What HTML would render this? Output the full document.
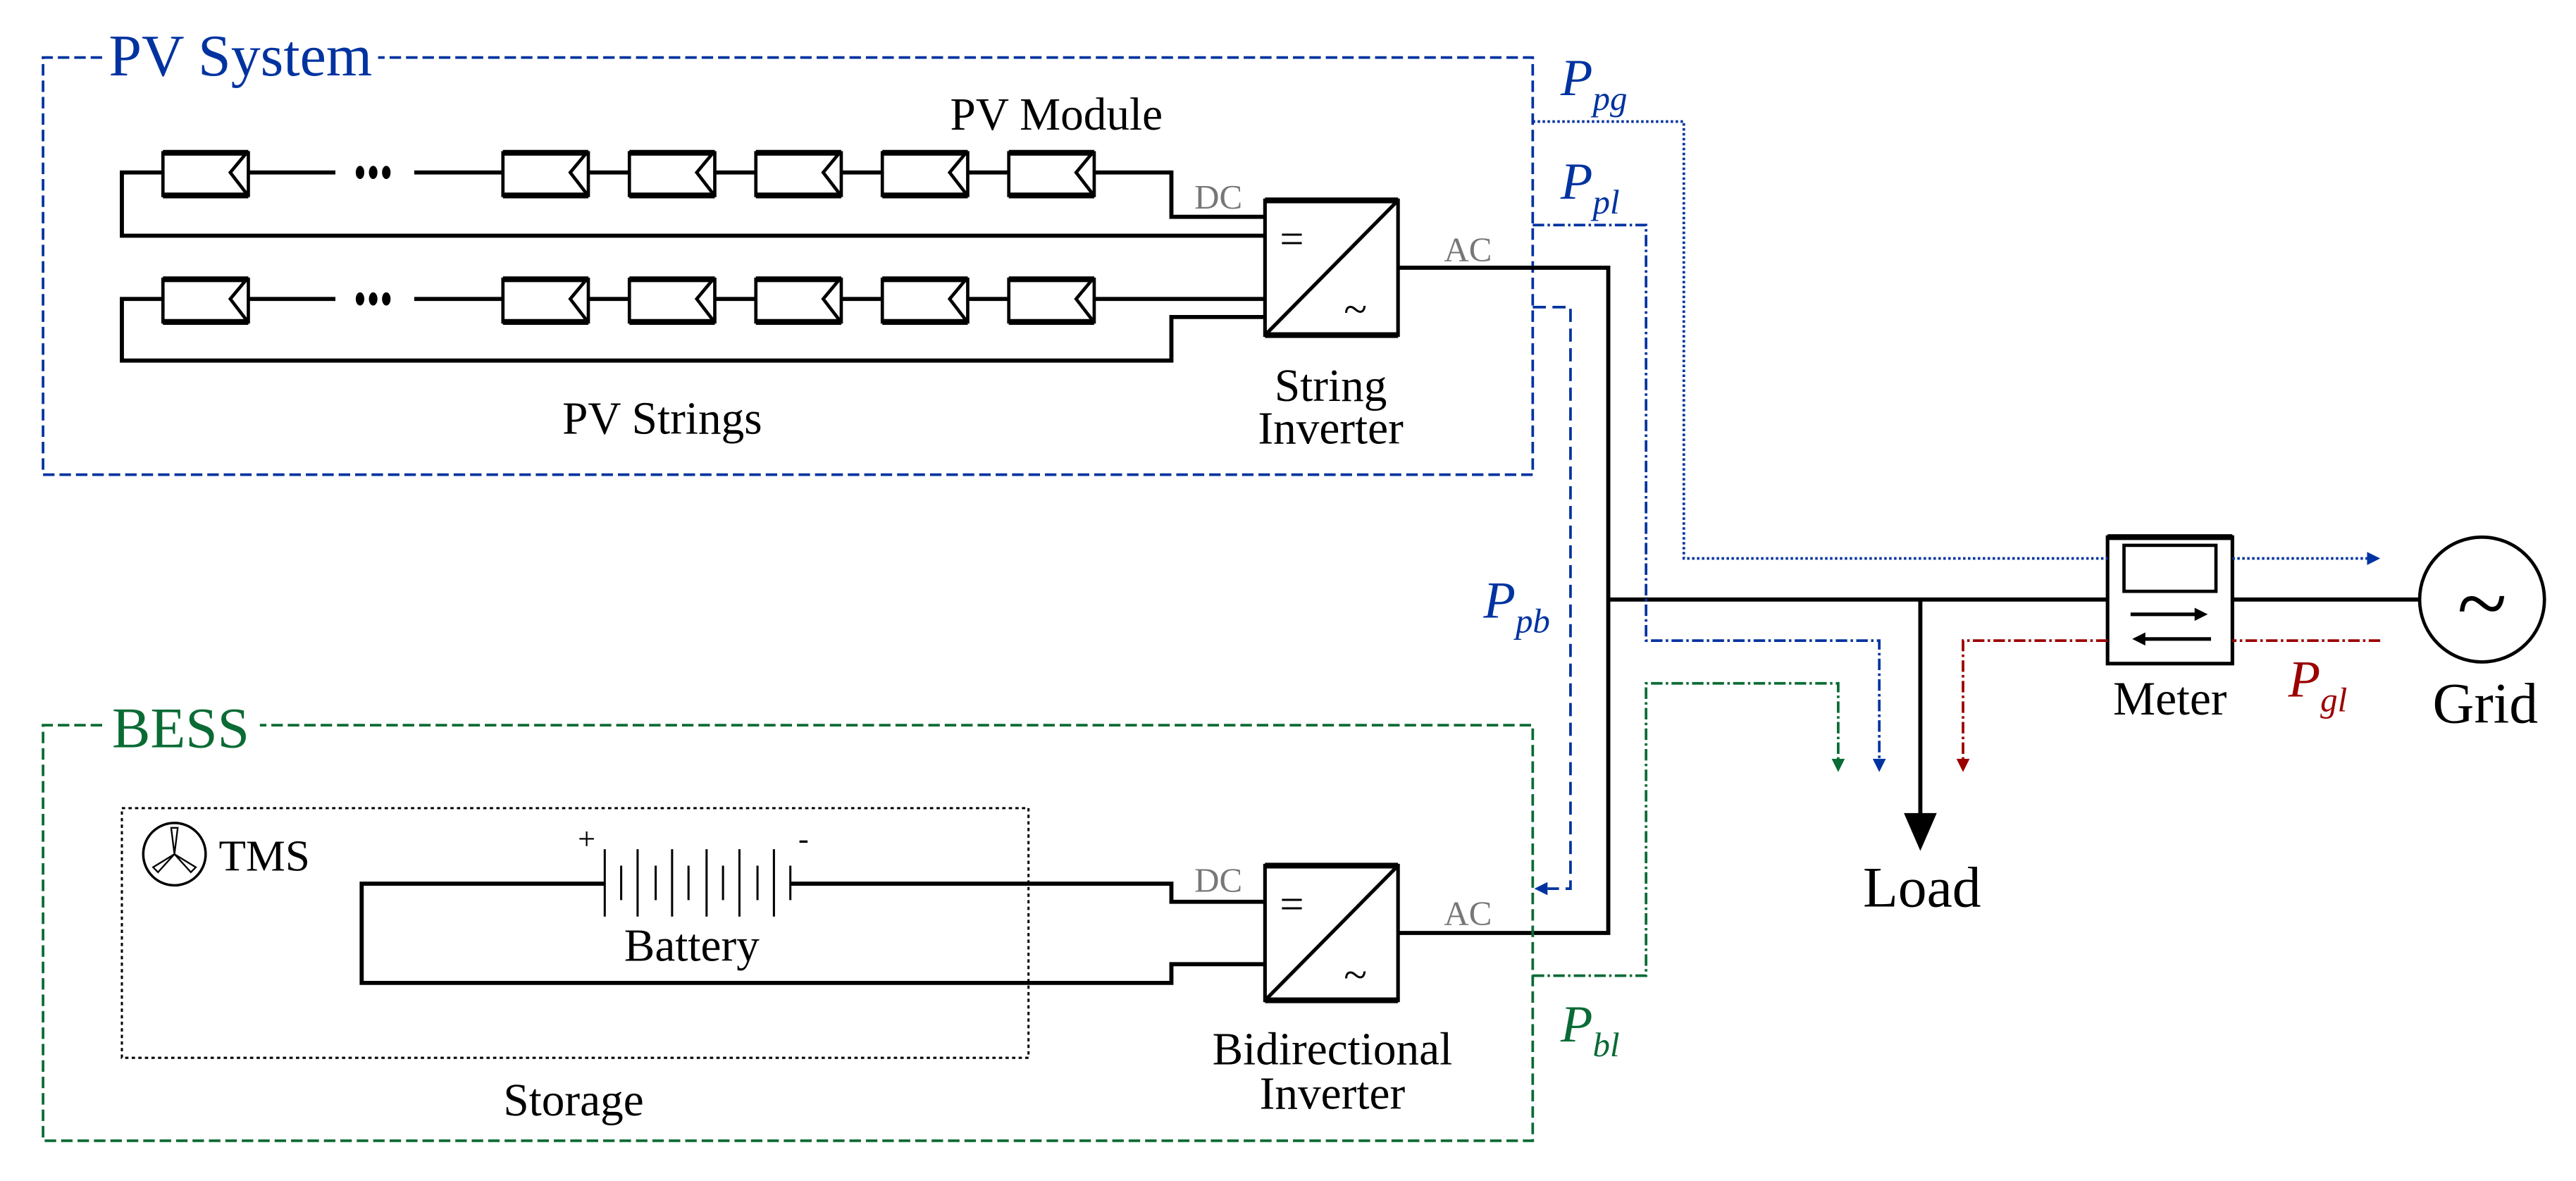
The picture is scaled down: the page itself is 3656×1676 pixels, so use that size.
<!DOCTYPE html>
<html><head><meta charset="utf-8"><style>html,body{margin:0;padding:0;background:#fff}svg{display:block}</style></head>
<body>
<svg width="3656" height="1676" viewBox="0 0 1568 719" xmlns="http://www.w3.org/2000/svg" font-family="Liberation Serif, serif">
<rect width="1568" height="719" fill="#fff"/>
<!-- PV system box -->
<path d="M62 35 H26 V289 H933 V35 H230" fill="none" stroke="#0033a0" stroke-width="1.6" stroke-dasharray="7,3"/>
<text x="66" y="46" font-size="36" fill="#0033a0">PV System</text>
<g stroke="#000" stroke-width="2.5" fill="none">
<path d="M151 105 H204 M252 105 H306"/>
<path d="M666 105 H713 V132 H770"/>
<path d="M99 105 H74 V143.5 H770"/>
<path d="M151 182 H204 M252 182 H306"/>
<path d="M666 182 H770"/>
<path d="M99 182 H74 V219.5 H713 V193 H770"/>
<path d="M358 105 H383 M435 105 H460 M512 105 H537 M589 105 H614"/>
<path d="M358 182 H383 M435 182 H460 M512 182 H537 M589 182 H614"/>
</g>
<g fill="#000">
<ellipse cx="219" cy="105" rx="2.6" ry="4"/><ellipse cx="227" cy="105" rx="2.6" ry="4"/><ellipse cx="235" cy="105" rx="2.6" ry="4"/>
<ellipse cx="219" cy="182" rx="2.6" ry="4"/><ellipse cx="227" cy="182" rx="2.6" ry="4"/><ellipse cx="235" cy="182" rx="2.6" ry="4"/>
</g>
<g fill="#fff" stroke="#000" stroke-width="2">
<g id="m"><rect x="99" y="93" width="52" height="26"/><path d="M99 93 H151 M99 119 H151" stroke-width="3.5"/><path d="M150 93 L140 105 L150 118" fill="none"/></g>
<use href="#m" x="207"/><use href="#m" x="284"/><use href="#m" x="361"/><use href="#m" x="438"/><use href="#m" x="515"/>
<use href="#m" y="77"/><use href="#m" x="207" y="77"/><use href="#m" x="284" y="77"/><use href="#m" x="361" y="77"/><use href="#m" x="438" y="77"/><use href="#m" x="515" y="77"/>
</g>
<text x="643" y="79" font-size="28" text-anchor="middle">PV Module</text>
<text x="403" y="264" font-size="28" text-anchor="middle">PV Strings</text>
<text x="810" y="244" font-size="28" text-anchor="middle">String</text>
<text x="810" y="270" font-size="28" text-anchor="middle">Inverter</text>
<!-- inverters -->
<g stroke="#000" fill="#fff" stroke-width="2.2">
<rect x="770" y="122" width="81" height="82"/>
<path d="M770 204 L851 122" fill="none"/>
<path d="M770 122 H851 M770 204 H851" stroke-width="3.5"/>
<rect x="770" y="527" width="81" height="82"/>
<path d="M770 609 L851 527" fill="none"/>
<path d="M770 527 H851 M770 609 H851" stroke-width="3.5"/>
</g>
<g font-size="26"><text x="779" y="154">=</text><text x="818" y="197">~</text>
<text x="779" y="559">=</text><text x="818" y="602">~</text></g>
<g fill="#777" font-size="21"><text x="727" y="127">DC</text><text x="879" y="159">AC</text>
<text x="727" y="543">DC</text><text x="879" y="563">AC</text></g>
<!-- AC bus -->
<g stroke="#000" stroke-width="2.5" fill="none">
<path d="M851 163 H979 V568 H851"/>
<path d="M979 365 H1283 M1359 365 H1473"/>
<path d="M1169 365 V498"/>
</g>
<path d="M1159 495 L1179 495 L1169 518 Z" fill="#000"/>
<text x="1170" y="552" font-size="35" text-anchor="middle">Load</text>
<!-- Meter -->
<rect x="1283" y="327" width="76" height="77" fill="#fff" stroke="#000" stroke-width="2.2"/>
<path d="M1283 327 H1359" stroke="#000" stroke-width="3.5"/>
<rect x="1293" y="332" width="56" height="28" fill="none" stroke="#000" stroke-width="2"/>
<path d="M1297 374 H1338" stroke="#000" stroke-width="2.2"/><path d="M1336 370 L1344 374 L1336 378Z"/>
<path d="M1305 389 H1346" stroke="#000" stroke-width="2.2"/><path d="M1306 385 L1298 389 L1306 393Z"/>
<text x="1321" y="435" font-size="29" text-anchor="middle">Meter</text>
<circle cx="1511" cy="365" r="38" fill="#fff" stroke="#000" stroke-width="2"/>
<text x="1511" y="386" font-size="56" text-anchor="middle">~</text>
<text x="1513" y="440" font-size="35" text-anchor="middle">Grid</text>
<!-- flows -->
<g fill="none" stroke-width="1.6">
<path d="M933 74 H1025 V340 H1283 M1359 340 H1441" stroke="#0033a0" stroke-dasharray="1.5,1.5"/>
<path d="M933 137 H1002 V390 H1144 V463" stroke="#0033a0" stroke-dasharray="7,2,1.5,2"/>
<path d="M933 187 H956 V541 H942" stroke="#0033a0" stroke-dasharray="8,4"/>
<path d="M933 594 H1002 V416 H1119 V463" stroke="#0a6b35" stroke-dasharray="7,2,1.5,2"/>
<path d="M1449 390 H1359 M1283 390 H1195 V463" stroke="#9b0000" stroke-dasharray="7,2,1.5,2"/>
</g>
<path d="M1441 336 L1449 340 L1441 344Z" fill="#0033a0"/>
<path d="M1140 462 L1144 470 L1148 462Z" fill="#0033a0"/>
<path d="M942 537 L934 541 L942 545Z" fill="#0033a0"/>
<path d="M1115 462 L1119 470 L1123 462Z" fill="#0a6b35"/>
<path d="M1191 462 L1195 470 L1199 462Z" fill="#9b0000"/>
<g font-style="italic">
<text x="950" y="58" font-size="32" fill="#0033a0">P<tspan font-size="21" dy="9">pg</tspan></text>
<text x="950" y="121" font-size="32" fill="#0033a0">P<tspan font-size="21" dy="9">pl</tspan></text>
<text x="903" y="376" font-size="32" fill="#0033a0">P<tspan font-size="21" dy="9">pb</tspan></text>
<text x="950" y="634" font-size="32" fill="#0a6b35">P<tspan font-size="21" dy="9">bl</tspan></text>
<text x="1393" y="424" font-size="32" fill="#9b0000">P<tspan font-size="21" dy="9">gl</tspan></text>
</g>
<!-- BESS -->
<path d="M62 441.5 H26 V694.5 H933 V441.5 H158" fill="none" stroke="#0a6b35" stroke-width="1.6" stroke-dasharray="7,3"/>
<text x="68" y="455" font-size="35" fill="#0a6b35">BESS</text>
<rect x="74" y="492" width="552" height="152" fill="none" stroke="#000" stroke-width="1.3" stroke-dasharray="2,2"/>
<circle cx="106" cy="520" r="19" fill="none" stroke="#000" stroke-width="1.5"/>
<path d="M106 520 L104 504 L108 504Z M106 520 L93 528 L96 531Z M106 520 L119 528 L116 531Z" fill="none" stroke="#000" stroke-width="1"/>
<text x="133" y="530" font-size="27">TMS</text>
<g stroke="#000" stroke-width="2.5" fill="none">
<path d="M368 538 H220 V598.4 H713 V587 H770"/>
<path d="M481 538 H713 V549 H770"/>
</g>
<g stroke="#000" stroke-width="1.3">
<path d="M368 517 V558 M378 527 V548 M388 517 V558 M399 527 V548 M409 517 V558 M419 527 V548 M430 517 V558 M440 527 V548 M450 517 V558 M461 527 V548 M471 517 V558 M481 527 V548"/>
</g>
<text x="357" y="517" font-size="19" text-anchor="middle">+</text>
<text x="489" y="517" font-size="19" text-anchor="middle">-</text>
<text x="421" y="585" font-size="28" text-anchor="middle">Battery</text>
<text x="349" y="679" font-size="28" text-anchor="middle">Storage</text>
<text x="811" y="648" font-size="28" text-anchor="middle">Bidirectional</text>
<text x="811" y="675" font-size="28" text-anchor="middle">Inverter</text>
</svg>
</body></html>
